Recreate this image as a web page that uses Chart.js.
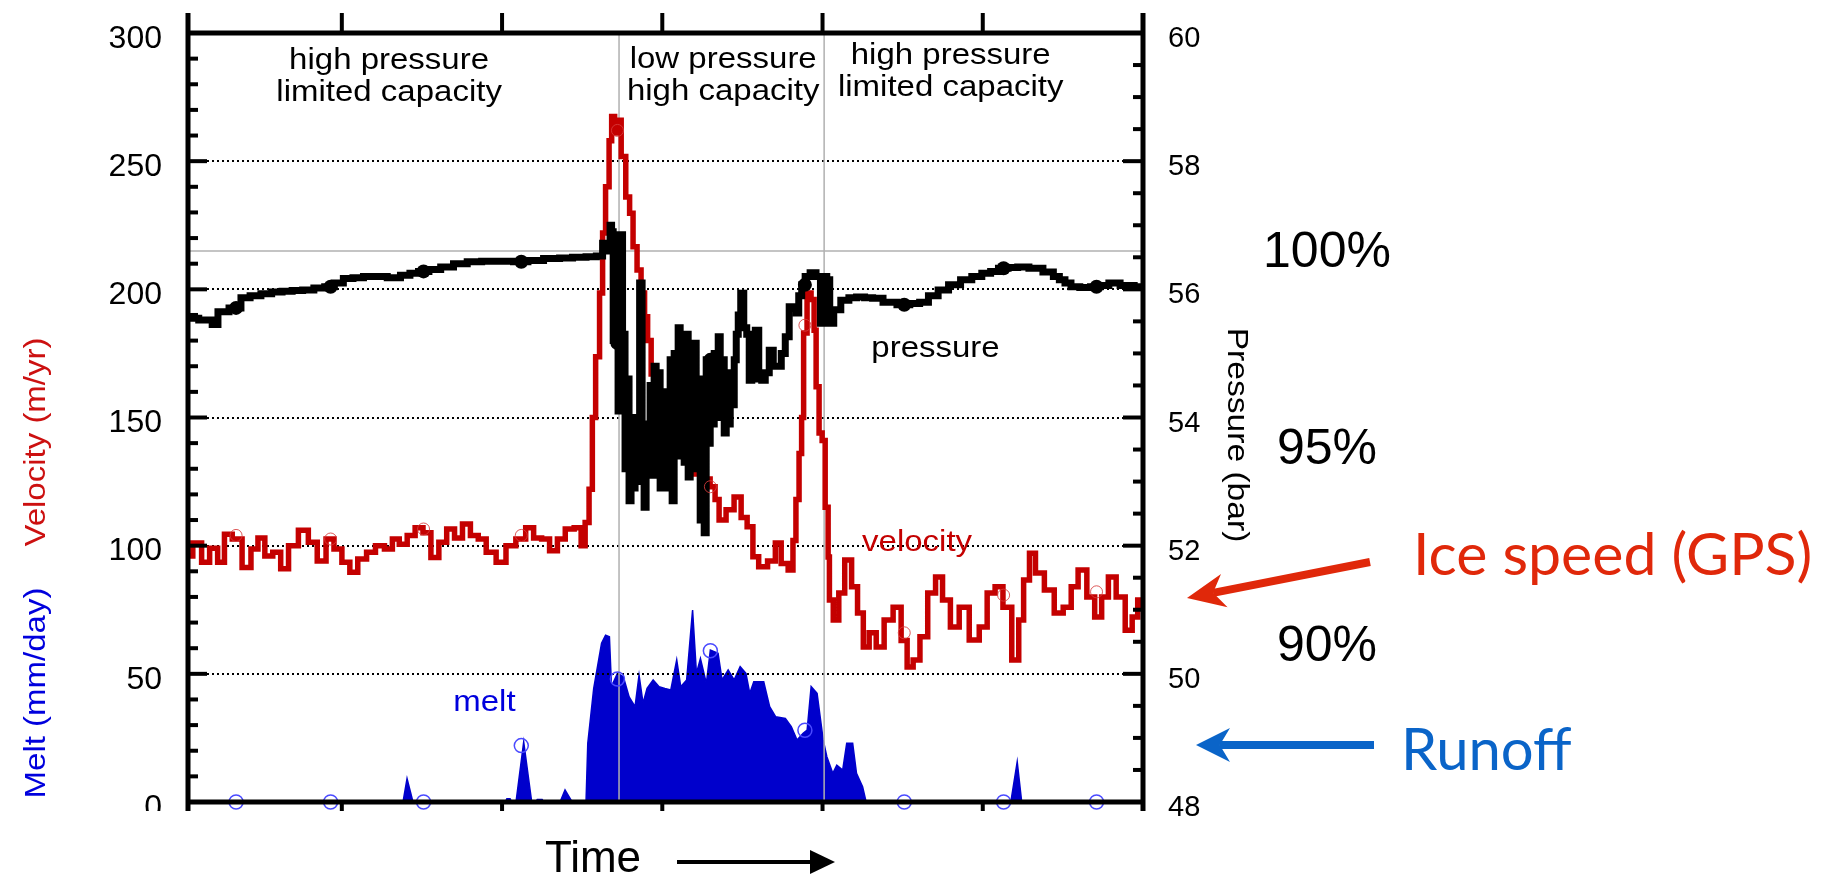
<!DOCTYPE html>
<html>
<head>
<meta charset="utf-8">
<script src="https://cdn.jsdelivr.net/npm/chart.js@4.4.1/dist/chart.umd.min.js"></script>
<style>
  html, body { margin: 0; padding: 0; background: #fff; }
  #wrap { position: relative; width: 1843px; height: 878px; }
</style>
</head>
<body>
<div id="wrap"><canvas id="chart"></canvas></div>
<script>
// time is in days, velocity in m/yr, melt in mm/day (left axis), pressure in bar (right axis)
const velocityData = [
  [0.04, 96], [0.10, 101], [0.15, 93.5], [0.20, 99], [0.25, 93.5], [0.285, 104.5], [0.347, 102.6],
  [0.408, 91.5], [0.458, 98.7], [0.495, 103], [0.544, 96], [0.594, 97.4], [0.643, 91], [0.692, 100],
  [0.766, 106], [0.816, 101.3], [0.877, 94], [0.926, 102.6], [0.976, 98.7], [1.025, 93.5], [1.075, 89.6],
  [1.124, 94.8], [1.185, 97.4], [1.235, 100], [1.297, 98.7], [1.334, 102.6], [1.383, 100.6], [1.433, 104],
  [1.482, 107], [1.531, 105], [1.581, 95.4], [1.630, 101.3], [1.679, 106.5], [1.728, 103], [1.778, 108.5],
  [1.827, 104], [1.876, 102.6], [1.926, 97.4], [2.0, 93.5], [2.049, 100], [2.123, 102.6], [2.172, 107],
  [2.222, 103], [2.272, 102.6], [2.321, 98], [2.370, 102.6], [2.419, 106.5], [2.481, 107], [2.506, 100],
  [2.531, 109], [2.555, 122], [2.572, 150], [2.596, 173.7], [2.621, 198.6], [2.634, 222], [2.658, 240],
  [2.678, 258], [2.690, 267.4], [2.715, 261], [2.730, 266], [2.757, 251.8], [2.787, 236], [2.805, 229.7],
  [2.830, 216.6], [2.855, 207.5], [2.880, 198.6], [2.899, 189.3], [2.918, 180], [2.943, 167], [2.955, 159.5],
  [2.980, 144], [3.05, 142], [3.152, 141], [3.186, 135], [3.217, 128], [3.274, 126], [3.323, 123],
  [3.336, 118], [3.373, 110], [3.423, 114], [3.473, 119], [3.511, 111], [3.548, 107.4], [3.583, 95.7],
  [3.620, 91.8], [3.694, 94], [3.717, 101], [3.767, 93], [3.804, 90.5], [3.827, 102], [3.841, 118],
  [3.866, 136], [3.873, 150], [3.891, 183], [3.916, 198.6], [3.941, 196], [3.954, 184], [3.966, 162],
  [3.991, 144], [4.004, 141], [4.029, 115], [4.041, 95.6], [4.045, 78.8], [4.089, 71], [4.114, 81.5],
  [4.163, 94.4], [4.200, 84], [4.237, 73.7], [4.272, 60.5], [4.310, 66], [4.360, 60.5], [4.409, 71],
  [4.472, 76], [4.509, 63], [4.547, 52.7], [4.584, 55.4], [4.632, 64.5], [4.681, 81.5], [4.730, 87.8],
  [4.768, 78.8], [4.828, 68.3], [4.878, 76], [4.953, 63.2], [5.003, 68.3], [5.052, 81.5], [5.102, 84],
  [5.150, 76], [5.212, 55.4], [5.237, 71], [5.273, 86.6], [5.310, 97], [5.348, 89.3], [5.421, 82.7],
  [5.471, 73.7], [5.533, 76], [5.571, 84], [5.619, 90.5], [5.680, 80], [5.717, 72.2], [5.767, 80],
  [5.801, 87.8], [5.864, 80], [5.914, 67], [5.951, 72.2], [5.983, 78.8], [6.0, 76]
];

const pressureData = [
  [0.04, 55.55], [0.174, 55.52], [0.208, 55.45], [0.246, 55.65], [0.346, 55.71], [0.395, 55.87],
  [0.46, 55.9], [0.53, 55.93], [0.594, 55.96], [0.66, 55.97], [0.72, 55.98], [0.791, 55.99],
  [0.86, 56.02], [0.926, 56.04], [0.98, 56.1], [1.039, 56.17], [1.10, 56.18], [1.17, 56.2],
  [1.235, 56.2], [1.332, 56.18], [1.40, 56.22], [1.45, 56.25], [1.507, 56.28], [1.58, 56.31],
  [1.654, 56.35], [1.74, 56.4], [1.825, 56.43], [1.92, 56.44], [2.02, 56.44], [2.123, 56.43],
  [2.2, 56.45], [2.318, 56.48], [2.4, 56.49], [2.48, 56.5], [2.568, 56.51],
  [2.609, 56.52], [2.646, 56.72], [2.668, 56.6], [2.680, 57.0],
  [2.687, 56.9], [2.700, 55.2], [2.718, 56.6], [2.730, 54.1], [2.743, 56.85], [2.761, 55.3],
  [2.774, 53.2], [2.786, 54.6], [2.799, 52.7], [2.811, 54.0], [2.824, 52.9], [2.836, 53.8],
  [2.849, 53.0], [2.868, 56.1], [2.880, 53.5], [2.893, 52.6], [2.905, 53.9], [2.918, 53.2],
  [2.930, 54.5], [2.943, 53.1], [2.955, 54.8], [2.968, 53.3], [2.980, 54.7], [2.993, 52.9],
  [3.005, 54.0], [3.018, 53.2], [3.030, 54.4], [3.043, 52.9], [3.055, 54.9], [3.068, 52.7],
  [3.080, 55.0], [3.093, 53.6], [3.105, 55.4], [3.118, 53.4], [3.130, 54.8], [3.143, 53.3],
  [3.155, 55.3], [3.168, 53.07], [3.180, 54.2], [3.193, 53.5], [3.205, 55.16], [3.218, 53.2],
  [3.230, 54.6], [3.243, 52.4], [3.255, 54.3], [3.268, 52.2], [3.280, 54.9], [3.293, 53.6],
  [3.305, 54.8], [3.318, 53.9], [3.330, 55.0], [3.343, 54.0], [3.355, 55.26], [3.368, 54.2],
  [3.380, 54.9], [3.393, 53.76], [3.405, 54.6], [3.418, 53.9], [3.430, 54.7], [3.443, 54.2],
  [3.455, 54.9], [3.468, 55.3], [3.480, 55.6], [3.499, 55.94], [3.518, 55.4], [3.536, 55.3],
  [3.549, 54.58], [3.568, 55.1], [3.593, 55.36], [3.611, 54.6], [3.630, 54.58], [3.655, 54.7],
  [3.680, 55.05], [3.705, 54.8], [3.730, 54.8], [3.755, 55.0], [3.780, 55.26], [3.804, 55.73],
  [3.830, 55.7], [3.842, 55.63], [3.861, 55.9], [3.879, 56.07], [3.904, 56.2], [3.941, 56.26],
  [3.978, 56.2], [3.996, 55.47], [4.014, 56.2], [4.039, 56.15], [4.051, 55.47], [4.089, 55.68],
  [4.139, 55.83], [4.19, 55.87], [4.235, 55.88], [4.29, 55.87], [4.335, 55.86], [4.42, 55.8],
  [4.509, 55.76], [4.58, 55.78], [4.632, 55.8], [4.69, 55.9], [4.753, 55.99], [4.82, 56.07],
  [4.903, 56.15], [4.96, 56.2], [5.028, 56.25], [5.07, 56.28], [5.126, 56.33], [5.19, 56.34],
  [5.246, 56.35], [5.33, 56.33], [5.421, 56.27], [5.46, 56.2], [5.496, 56.15], [5.53, 56.1],
  [5.571, 56.04], [5.64, 56.03], [5.705, 56.04], [5.76, 56.06], [5.814, 56.1], [5.9, 56.06],
  [5.990, 56.04], [6.0, 56.04]
];

const meltData = [
  [0.04, 0], [1.37, 0], [1.382, 0], [1.407, 9.1], [1.444, 0], [2.02, 0], [2.03, 1.3], [2.05, 1.3],
  [2.06, 0], [2.087, 0], [2.135, 23.4], [2.185, 0], [2.21, 0], [2.22, 1], [2.25, 1], [2.26, 0],
  [2.362, 0], [2.393, 4.7], [2.437, 0], [2.524, 0], [2.535, 22.9], [2.572, 44.3], [2.621, 61.9],
  [2.646, 65.1], [2.670, 64.5], [2.683, 45], [2.720, 50.2], [2.757, 48.9], [2.793, 41], [2.830, 37.2],
  [2.855, 49.5], [2.880, 38.5], [2.905, 44.3], [2.943, 47.6], [2.980, 45], [3.016, 44.3], [3.053, 43.7],
  [3.090, 55.4], [3.115, 45], [3.152, 47.6], [3.189, 74.9], [3.213, 50.2], [3.238, 56], [3.275, 46.3],
  [3.300, 59.3], [3.348, 58], [3.373, 47.6], [3.411, 51.5], [3.448, 47.6], [3.486, 52.8], [3.522, 50.2],
  [3.546, 42.4], [3.571, 46.9], [3.633, 46.9], [3.670, 37.2], [3.707, 33.3], [3.768, 32.6], [3.805, 29.4],
  [3.841, 24.2], [3.879, 26.8], [3.904, 28.1], [3.929, 45], [3.966, 42.4], [4.004, 24.2], [4.027, 17.7],
  [4.064, 11.2], [4.089, 14.4], [4.126, 12.5], [4.151, 22.9], [4.188, 22.9], [4.212, 11.2], [4.250, 6],
  [4.272, 0], [5.175, 0], [5.215, 15.7], [5.243, 0], [6.0, 0]
];

// sampled markers drawn on each series
const markerTimes = [0.34, 0.93, 1.51, 2.12, 2.72, 3.30, 3.89, 4.51, 5.13, 5.71];
const velocityMarks = [104, 102.6, 106.5, 104, 262, 123, 186, 66, 80.7, 82];
const pressureMarks = [55.71, 56.04, 56.28, 56.43, 55.16, 54.9, 56.07, 55.76, 56.33, 56.04];
const meltMarks = [0, 0, 0, 22, 48, 59, 28, 0, 0, 0];

// axis ticks
const leftTicks = [0, 50, 100, 150, 200, 250, 300];
const rightTicks = [48, 50, 52, 54, 56, 58, 60];
const timeTicks = [1, 2, 3, 4, 5];
const phaseBounds = [2.73, 4.01];
const fullPressure = 56.6;
const levelLabels = ['100%', '95%', '90%'];

const pts = arr => arr.map(([t, v]) => ({ x: t, y: v }));
const marks = vals => vals.map((v, i) => ({ x: markerTimes[i], y: v }));

const SANS = '"Liberation Sans", Arial, Helvetica, sans-serif';
const SLIDE = 'Lato, "Open Sans", sans-serif';

function label(ctx, str, x, y, o) {
  ctx.save();
  ctx.font = o.font;
  ctx.fillStyle = o.color || '#000';
  ctx.textAlign = o.align || 'center';
  ctx.textBaseline = o.baseline || 'alphabetic';
  ctx.translate(x, y);
  if (o.rot) ctx.rotate(o.rot);
  ctx.scale(o.sx || 1, 1);
  ctx.fillText(str, 0, 0);
  ctx.restore();
}

function arrow(ctx, x0, y0, x1, y1, w, headLen, headHalf, notch, color) {
  const len = Math.hypot(x1 - x0, y1 - y0);
  ctx.save();
  ctx.translate(x1, y1);
  ctx.rotate(Math.atan2(y1 - y0, x1 - x0));
  ctx.fillStyle = color;
  ctx.fillRect(-len, -w / 2, len - headLen * notch, w);
  ctx.beginPath();
  ctx.moveTo(0, 0);
  ctx.lineTo(-headLen, -headHalf);
  ctx.lineTo(-headLen * notch, 0);
  ctx.lineTo(-headLen, headHalf);
  ctx.closePath();
  ctx.fill();
  ctx.restore();
}

function line(ctx, x0, y0, x1, y1) {
  ctx.beginPath();
  ctx.moveTo(x0, y0);
  ctx.lineTo(x1, y1);
  ctx.stroke();
}

const framePlugin = {
  id: 'framePlugin',
  // dotted grid and phase guides sit above the melt fill, below the curves
  afterDatasetDraw(chart, args) {
    if (args.index !== 0) return;
    const { ctx, chartArea: a, scales: { x, y, y2 } } = chart;
    ctx.save();
    ctx.strokeStyle = '#000';
    ctx.lineWidth = 2;
    ctx.setLineDash([2, 3]);
    leftTicks.slice(1, -1).forEach(v => {
      const py = Math.round(y.getPixelForValue(v));
      line(ctx, a.left + 19, py, a.right - 20, py);
    });
    ctx.setLineDash([]);
    ctx.strokeStyle = '#b0b0b0';
    ctx.lineWidth = 1.5;
    phaseBounds.forEach(t => {
      const px = x.getPixelForValue(t);
      line(ctx, px, a.top, px, a.bottom);
    });
    const pp = y2.getPixelForValue(fullPressure);
    line(ctx, a.left, pp, a.right, pp);
    ctx.restore();
  },
  afterDraw(chart) {
    const { ctx, chartArea: a, scales: { x, y, y2 } } = chart;
    ctx.save();
    ctx.strokeStyle = '#000';
    ctx.lineCap = 'butt';

    // frame
    ctx.lineWidth = 5;
    line(ctx, a.left - 2, a.top, a.right + 2, a.top);
    line(ctx, a.left - 2, a.bottom, a.right + 2, a.bottom);
    line(ctx, a.left, a.top - 20, a.left, a.bottom + 9);
    line(ctx, a.right, a.top - 20, a.right, a.bottom + 9);

    // time ticks: above the top edge, below the bottom edge
    ctx.lineWidth = 4;
    timeTicks.forEach(t => {
      const px = x.getPixelForValue(t);
      line(ctx, px, a.top - 20, px, a.top);
      line(ctx, px, a.bottom, px, a.bottom + 9);
    });

    // left ticks, inward
    for (let v = 10; v < 300; v += 10) {
      const py = y.getPixelForValue(v);
      const major = v % 50 === 0;
      line(ctx, a.left, py, a.left + (major ? 19 : 10), py);
    }
    // right ticks, inward
    for (let p = 48.5; p < 60; p += 0.5) {
      const py = y2.getPixelForValue(p);
      const major = Math.abs(p / 2 - Math.round(p / 2)) < 1e-6;
      line(ctx, a.right, py, a.right - (major ? 20 : 10), py);
    }

    // lower half of the zero label falls off the figure
    ctx.fillStyle = '#fff';
    ctx.fillRect(90, a.bottom + 9, a.left - 95, 30);

    // phase captions
    const phases = [
      { t: 1.295, top: 69, lines: ['high pressure', 'limited capacity'] },
      { t: 3.38, top: 68, lines: ['low pressure', 'high capacity'] },
      { t: 4.80, top: 64, lines: ['high pressure', 'limited capacity'] }
    ];
    phases.forEach(ph => {
      const px = x.getPixelForValue(ph.t);
      ph.lines.forEach((s, i) => label(ctx, s, px, ph.top + i * 32, { font: `30px ${SANS}`, sx: 1.1 }));
    });

    // series captions
    label(ctx, 'pressure', x.getPixelForValue(4.705), y2.getPixelForValue(54.95), { font: `30px ${SANS}`, sx: 1.1 });
    label(ctx, 'velocity', x.getPixelForValue(4.59), y.getPixelForValue(97.8), { font: `30px ${SANS}`, sx: 1.1, color: '#c40000' });
    label(ctx, 'melt', x.getPixelForValue(1.89), y.getPixelForValue(35.4), { font: `30px ${SANS}`, sx: 1.1, color: '#0000dd' });

    // axis titles
    label(ctx, 'Velocity (m/yr)', 37, 442, { font: `30px ${SANS}`, sx: 1.1, rot: -Math.PI / 2, baseline: 'middle', color: '#cc1010' });
    label(ctx, 'Melt (mm/day)', 37, 693, { font: `30px ${SANS}`, sx: 1.1, rot: -Math.PI / 2, baseline: 'middle', color: '#0000dd' });
    label(ctx, 'Pressure (bar)', 1236, 435, { font: `30px ${SANS}`, sx: 1.12, rot: Math.PI / 2, baseline: 'middle' });

    // fraction of flotation levels
    [253, 450, 647].forEach((py, i) => label(ctx, levelLabels[i], 1327, py, { font: `50px ${SANS}`, baseline: 'middle' }));

    // callouts
    label(ctx, 'Ice speed (GPS)', 1413, 575, { font: `59px ${SLIDE}`, align: 'left', color: '#e0280a' });
    arrow(ctx, 1370, 562, 1187, 598, 8, 38, 17, 0.7, '#e0280a');
    label(ctx, 'Runoff', 1401, 770, { font: `58px ${SLIDE}`, align: 'left', color: '#0a64c8' });
    arrow(ctx, 1374, 745, 1196, 745, 8, 34, 17, 0.7, '#0a64c8');

    // time axis caption
    label(ctx, 'Time', 593, 872, { font: `44px ${SANS}` });
    arrow(ctx, 677, 862, 835, 862, 4, 25, 12, 1, '#000');
    ctx.restore();
  }
};

// tick labels sit 26px / 25px off the frame; the offset goes in tickLength
// so the axis padding does not push the plot area down
const tickFont = size => ({ family: SANS, size });

new Chart(document.getElementById('chart'), {
  type: 'line',
  data: {
    datasets: [
      {
        label: 'melt', data: pts(meltData), yAxisID: 'y', order: 5,
        borderColor: '#0000cc', backgroundColor: '#0000cc', borderWidth: 1.5,
        fill: 'origin', pointRadius: 0, tension: 0
      },
      {
        label: 'velocity', data: pts(velocityData), yAxisID: 'y', order: 3,
        borderColor: '#c40000', borderWidth: 5.5, pointRadius: 0, stepped: 'middle', fill: false
      },
      {
        label: 'pressure', data: pts(pressureData), yAxisID: 'y2', order: 2,
        borderColor: '#000', borderWidth: 7, pointRadius: 0, stepped: 'middle', fill: false
      },
      {
        label: 'velocity samples', data: marks(velocityMarks), yAxisID: 'y', order: 1,
        showLine: false, pointRadius: 6, pointBorderWidth: 1, pointBorderColor: 'rgba(215,60,60,0.85)',
        pointBackgroundColor: 'rgba(0,0,0,0)', clip: false
      },
      {
        label: 'pressure samples', data: marks(pressureMarks), yAxisID: 'y2', order: 1,
        showLine: false, pointRadius: 7, pointBorderWidth: 0, pointBackgroundColor: '#000', clip: false
      },
      {
        label: 'melt samples', data: marks(meltMarks), yAxisID: 'y', order: 0,
        showLine: false, pointRadius: 7, pointBorderWidth: 1.5, pointBorderColor: '#4a4aff',
        pointBackgroundColor: 'rgba(0,0,0,0)', clip: false
      }
    ]
  },
  options: {
    responsive: true,
    maintainAspectRatio: false,
    animation: false,
    layout: { padding: { top: 33, bottom: 76, left: 0, right: 0 } },
    plugins: { legend: { display: false }, tooltip: { enabled: false } },
    scales: {
      x: { type: 'linear', min: 0.04, max: 6, display: false },
      y: {
        position: 'left', min: 0, max: 300,
        afterFit: s => { s.width = 188; },
        afterBuildTicks: s => { s.ticks = leftTicks.map(v => ({ value: v })); },
        grid: { display: false, drawTicks: true, tickLength: 26 }, border: { display: false },
        ticks: { font: tickFont(32), color: '#000', padding: 0, labelOffset: 6, autoSkip: false }
      },
      y2: {
        position: 'right', min: 48, max: 60,
        afterFit: s => { s.width = 700; },
        afterBuildTicks: s => { s.ticks = rightTicks.map(v => ({ value: v })); },
        grid: { display: false, drawTicks: true, tickLength: 25 }, border: { display: false },
        ticks: { font: tickFont(29), color: '#000', padding: 0, labelOffset: 6, autoSkip: false }
      }
    }
  },
  plugins: [framePlugin]
});
</script>
</body>
</html>
